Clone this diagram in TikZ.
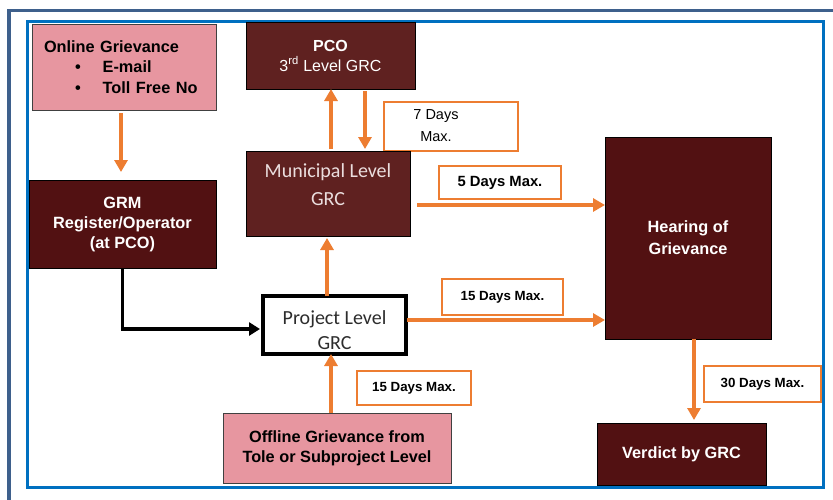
\documentclass[tikz,border=0pt]{standalone}
\usepackage{fontspec}
\setmainfont{Liberation Sans}
\newfontfamily\calib{Carlito}
\usetikzlibrary{arrows.meta}
\definecolor{pinkbox}{RGB}{231,150,160}
\definecolor{darkbox}{RGB}{82,17,18}
\definecolor{brownbox}{RGB}{95,33,32}
\definecolor{orng}{RGB}{237,125,49}
\definecolor{innerblue}{RGB}{0,112,192}
\definecolor{outerblue}{RGB}{62,96,140}
\definecolor{mtext}{RGB}{235,222,222}
\definecolor{ptext}{RGB}{45,45,45}
\begin{document}
\begin{tikzpicture}[x=1pt,y=-1pt,
  boxst/.style={rectangle, inner sep=0pt, outer sep=0pt, align=center},
  pinkst/.style={boxst, fill=pinkbox, draw=black!75, line width=0.8pt,
     font=\bfseries\fontsize{16.3}{20}\selectfont},
  darkst/.style={boxst, fill=darkbox, draw=black, line width=0.8pt, text=white,
     font=\bfseries\fontsize{16.3}{20}\selectfont},
  brownst/.style={boxst, fill=brownbox, draw=black, line width=0.8pt},
  labst/.style={boxst, draw=orng, line width=1.5pt, fill=white,
     font=\bfseries\fontsize{13.3}{16}\selectfont},
  oarrow/.style={draw=orng, line width=4.5pt, -{Triangle[length=12pt,width=13pt]}},
  karrow/.style={draw=black, line width=3.5pt, -{Triangle[length=11pt,width=13pt]}}
]
\useasboundingbox (0,0) rectangle (833,499);
\fill[white] (0,0) rectangle (833,499);
% frames
\draw[outerblue, line width=3.5pt] (9,10.3) rectangle (860,530);
\draw[innerblue, line width=3pt] (27.5,21) rectangle (823,487.5);

% helper coordinates
\coordinate (xa) at (121,0);
\coordinate (xb) at (331,0);
\coordinate (xc) at (365,0);
\coordinate (xd) at (327,0);
\coordinate (xe) at (694,0);
\coordinate (ya) at (0,205);
\coordinate (yb) at (0,320);
\coordinate (yc) at (0,329);

% nodes
\node[pinkst, minimum width=184pt, minimum height=86pt, text width=160pt, align=left,
      font=\bfseries\fontsize{16.3}{20.5}\selectfont] (online) at (124,67)
  {Online Grievance\\ \hspace*{31pt}\textbullet\hspace*{22pt}E-mail\\ \hspace*{31pt}\textbullet\hspace*{22pt}Toll Free No};
\node[darkst, minimum width=187pt, minimum height=88pt] (grm) at (122.5,224)
  {GRM\\Register/Operator\\(at PCO)};
\node[brownst, minimum width=169pt, minimum height=67pt, text=white,
      font=\fontsize{16}{20}\selectfont] (pco) at (330.5,55.5)
  {\textbf{PCO}\\3\textsuperscript{rd} Level GRC};
\node[labst, minimum width=134pt, minimum height=49pt,
      font=\fontsize{14.5}{22}\selectfont] (d7) at (451,126.5)
  {\begin{tabular}{@{}c@{}}7 Days\\Max.\end{tabular}\hspace*{30pt}};
\node[brownst, minimum width=164pt, minimum height=85pt] (muni) at (328,193.5) {};
\node[boxst, text=mtext, font=\calib\fontsize{20}{28}\selectfont] (muniT) at (328,185)
  {Municipal Level\\GRC};
\node[labst, minimum width=122pt, minimum height=33pt,
      font=\bfseries\fontsize{14.8}{16}\selectfont] (d5) at (500,182.5) {5 Days Max.};
\node[darkst, minimum width=166pt, minimum height=202pt,
      font=\bfseries\fontsize{16.3}{22}\selectfont] (hear) at (688,238)
  {Hearing of\\Grievance};
\node[boxst, draw=black, line width=4pt, fill=white, minimum width=143pt,
      minimum height=58pt] (proj) at (334.5,325) {};
\node[boxst, text=ptext, font=\calib\fontsize{20}{25}\selectfont] (projT) at (334.5,330.5)
  {Project Level\\GRC};
\node[labst, minimum width=121pt, minimum height=36pt] (d15a) at (502.5,297) {15 Days Max.};
\node[labst, minimum width=114pt, minimum height=34pt] (d15b) at (414,388) {15 Days Max.};
\node[pinkst, minimum width=228pt, minimum height=70pt] (off) at (337,448)
  {Offline Grievance from\\Tole or Subproject Level};
\node[labst, minimum width=117pt, minimum height=36pt] (d30) at (762.5,384) {30 Days Max.};
\node[darkst, minimum width=169pt, minimum height=62pt] (verd) at (681.5,454) {Verdict by GRC};

% connectors
\draw[oarrow, shorten <=3pt, shorten >=8pt] (online.south -| xa) -- (grm.north -| xa);
\draw[karrow, shorten >=3pt] (grm.south) |- (proj.west |- yc);
\draw[oarrow, shorten <=2pt] (muni.north -| xb) -- (pco.south -| xb);
\draw[oarrow, shorten <=2pt, shorten >=2pt] (pco.south -| xc) -- (muni.north -| xc);
\draw[oarrow, shorten >=2pt] (proj.north -| xd) -- (muni.south -| xd);
\draw[oarrow] (off.north -| xb) -- (proj.south -| xb);
\draw[oarrow, shorten <=7pt] (muni.east |- ya) -- (hear.west |- ya);
\draw[oarrow, shorten <=1pt] (proj.east |- yb) -- (hear.west |- yb);
\draw[oarrow, shorten >=3pt] (hear.south -| xe) -- (verd.north -| xe);
\end{tikzpicture}
\end{document}
